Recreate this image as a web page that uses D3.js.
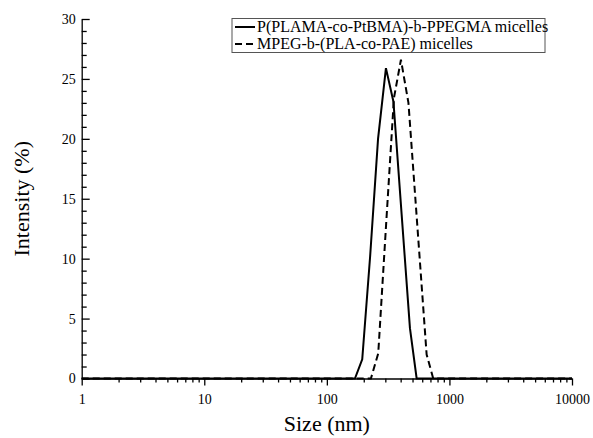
<!DOCTYPE html>
<html>
<head>
<meta charset="utf-8">
<script src="https://cdn.jsdelivr.net/npm/d3@7"></script>
</head>
<body style="margin:0;background:#fff">
<svg id="chart" width="593" height="438"></svg>
<script>
// Size distribution by intensity (DLS)
const seriesNames = ["P(PLAMA-co-PtBMA)-b-PPEGMA micelles", "MPEG-b-(PLA-co-PAE) micelles"];

const sizesA = [169.5, 194.4, 225.5, 261.6, 303.4, 349.4, 407.5, 476.3, 540.2];
const intensA = [0, 1.6, 10.2, 20.0, 25.9, 23.1, 13.7, 4.2, 0];

const sizesB = [1, 228.9, 262.6, 304.6, 352.6, 402.2, 463.1, 549.4, 651.7, 737.9, 10000];
const intensB = [0, 0, 2.1, 12.9, 23.4, 26.6, 23.0, 12.5, 2.0, 0, 0];

const sizesA0 = [1].concat(sizesA, [10000]);
const intensA0 = [0].concat(intensA, [0]);

const xTickValues = [1, 10, 100, 1000, 10000];
const yTickValues = [0, 5, 10, 15, 20, 25, 30];

const xLabel = "Size (nm)";
const yLabel = "Intensity (%)";

const families = ["Liberation Serif", "Tinos", "Times New Roman", "Times", "serif"];

const svg = d3.select("#chart");
const plotLeft = 81.7, plotRight = 572, plotTop = 19, plotBottom = 378.5;

const x = d3.scaleLog().domain([1, 10000]).range([plotLeft, plotRight]);
const y = d3.scaleLinear().domain([0, 30]).range([plotBottom, plotTop]);

// minor ticks: 2..9 within each decade, and every 1 % on the intensity axis
const xMinor = [];
for (let d = 1; d < 10000; d *= 10) for (let k = 2; k <= 9; k++) xMinor.push(d * k);
const yMinor = d3.range(0, 31, 1).filter(v => v % 5 !== 0);

function styleAxis(g) {
  g.attr("font-family", null).attr("font-size", null);
  g.selectAll("path, line").attr("stroke", "#000").attr("stroke-width", 1.3);
  g.selectAll("text").attr("fill", "#000").attr("font-size", 14);
}

// x axis, ticks pointing outward
svg.append("g")
  .attr("transform", `translate(0,${plotBottom})`)
  .call(d3.axisBottom(x).tickValues(xMinor).tickSize(4).tickFormat(""))
  .call(g => g.select(".domain").remove())
  .call(styleAxis);
svg.append("g")
  .attr("transform", `translate(0,${plotBottom})`)
  .call(d3.axisBottom(x).tickValues(xTickValues).tickSize(7).tickSizeOuter(0)
    .tickPadding(9).tickFormat(d3.format("d")))
  .call(styleAxis);

// y axis, ticks pointing inward
svg.append("g")
  .attr("transform", `translate(${plotLeft},0)`)
  .call(d3.axisRight(y).tickValues(yMinor).tickSize(5).tickFormat(""))
  .call(g => g.select(".domain").remove())
  .call(styleAxis);
svg.append("g")
  .attr("transform", `translate(${plotLeft},0)`)
  .call(d3.axisRight(y).tickValues(yTickValues).tickSize(8).tickSizeOuter(0).tickFormat(d3.format("d")))
  .call(styleAxis)
  .call(g => g.selectAll("text").attr("x", -6).attr("text-anchor", "end"));

// axis titles
svg.append("text")
  .attr("x", (plotLeft + plotRight) / 2).attr("y", 431)
  .attr("text-anchor", "middle").attr("font-size", 22).text(xLabel);
svg.append("text")
  .attr("transform", `translate(29,${(plotTop + plotBottom) / 2}) rotate(-90)`)
  .attr("text-anchor", "middle").attr("font-size", 22).text(yLabel);

// curves
const line = d3.line().x(d => x(d[0])).y(d => y(d[1]));
svg.append("path")
  .datum(d3.zip(sizesA0, intensA0))
  .attr("d", line).attr("fill", "none").attr("stroke", "#000")
  .attr("stroke-width", 2).attr("stroke-linejoin", "miter");
svg.append("path")
  .datum(d3.zip(sizesB, intensB))
  .attr("d", line).attr("fill", "none").attr("stroke", "#000")
  .attr("stroke-width", 2).attr("stroke-dasharray", "7,4");

// legend
const lg = svg.append("g");
lg.append("rect").attr("x", 232).attr("y", 18.5).attr("width", 313).attr("height", 34)
  .attr("fill", "#fff").attr("stroke", "#555").attr("stroke-width", 1);
const rows = [{ dash: null, yy: 27 }, { dash: "7,4", yy: 44 }];
rows.forEach((r, i) => {
  lg.append("line").attr("x1", 235).attr("x2", 255).attr("y1", r.yy).attr("y2", r.yy)
    .attr("stroke", "#000").attr("stroke-width", 2)
    .attr("stroke-dasharray", r.dash);
  lg.append("text").attr("x", 257).attr("y", r.yy).attr("dy", "0.33em")
    .attr("font-size", 16).text(seriesNames[i]);
});

// every label in a Times-like serif face
const familyList = families.map(f => f === "serif" ? f : `"${f}"`).join(", ");
svg.selectAll("text")
  .attr("font-family", familyList)
  .style("font-family", familyList);
</script>
</body>
</html>
